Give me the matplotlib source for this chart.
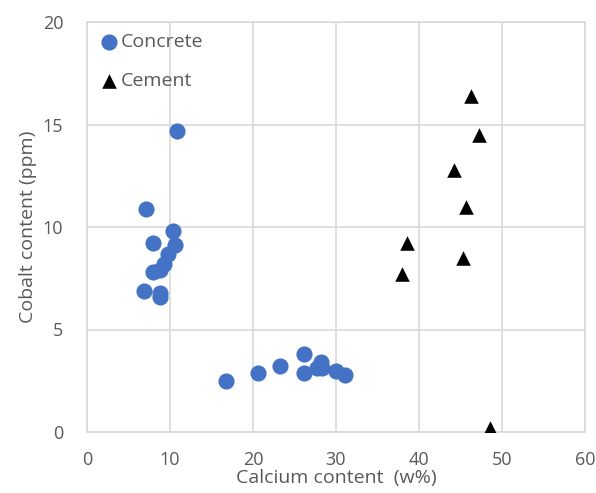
import matplotlib
matplotlib.use("Agg")
import matplotlib.pyplot as plt

plt.rcParams['font.family'] = ['Open Sans', 'DejaVu Sans']

concrete_x = [10.8, 7.1, 10.4, 7.9, 10.6, 9.8, 9.3, 8.8, 8.0, 6.9, 8.8, 8.8,
              16.8, 20.6, 23.3, 26.1, 26.1, 28.2, 27.7, 28.3, 30.0, 31.1]
concrete_y = [14.7, 10.9, 9.8, 9.2, 9.1, 8.7, 8.2, 7.9, 7.8, 6.9, 6.8, 6.6,
              2.5, 2.9, 3.2, 3.8, 2.9, 3.4, 3.1, 3.1, 3.0, 2.8]
cement_x = [46.3, 47.2, 44.2, 45.7, 38.5, 45.3, 38.0, 48.6]
cement_y = [16.4, 14.5, 12.8, 11.0, 9.2, 8.5, 7.7, 0.2]

xticks = [0, 10, 20, 30, 40, 50, 60]
yticks = [0, 5, 10, 15, 20]

fig = plt.figure(figsize=(5.96, 4.93), dpi=100)
ax = fig.add_axes([87/596, 61/493, 498/596, 410/493])

ax.scatter(concrete_x, concrete_y, s=135, color='#4472C4', marker='o',
           label='Concrete', zorder=3, linewidths=0)
ax.scatter(cement_x, cement_y, s=110, color='black', marker='^',
           label='Cement', zorder=3, linewidths=0)

ax.set_xlim(0, 60)
ax.set_ylim(0, 20)
ax.set_xticks(xticks)
ax.set_yticks(yticks)
ax.grid(True, color='#D9D9D9', linewidth=1.2, zorder=0)
ax.set_axisbelow(True)
for sp in ax.spines.values():
    sp.set_color('#D9D9D9')
    sp.set_linewidth(1.2)
ax.tick_params(axis='x', length=0, labelsize=13, colors='#595959', pad=14)
ax.tick_params(axis='y', length=0, labelsize=13, colors='#595959', pad=17)

ax.set_xlabel('Calcium content  (w%)', fontsize=14, color='#595959', labelpad=0)
ax.set_ylabel('Cobalt content (ppm)', fontsize=14, color='#595959', labelpad=4)

leg = ax.legend(loc='upper left', frameon=False, fontsize=14, handletextpad=0.0,
                borderaxespad=0.25, labelspacing=1.1, handlelength=1.2,
                borderpad=0.3, labelcolor='#595959')

fig.savefig('out.png', dpi=100)
